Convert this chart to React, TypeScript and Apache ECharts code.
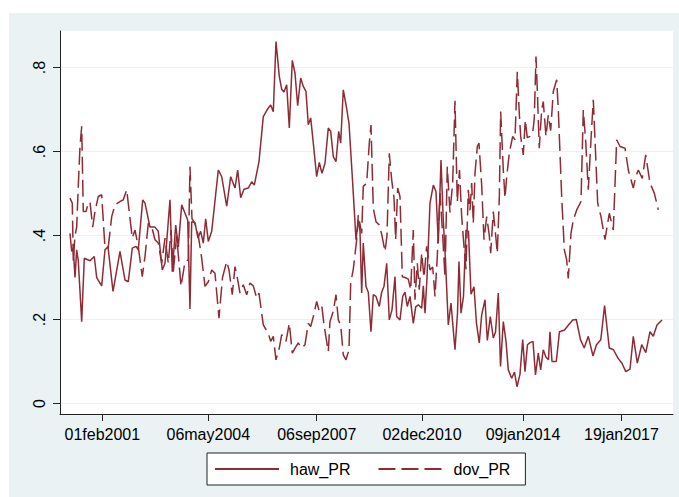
import React, { useEffect, useRef } from "react";
import * as echarts from "echarts";

// Dates as decimal years, values as proportions
const hawT = [
  2000.092, 2000.145, 2000.194, 2000.246, 2000.298, 2000.347, 2000.452, 2000.532, 2000.707, 2000.839, 2000.913,
  2001.067, 2001.168, 2001.261, 2001.415, 2001.63, 2001.784, 2001.885, 2002.008, 2002.122, 2002.192, 2002.328,
  2002.399, 2002.552, 2002.706, 2002.807, 2002.93, 2003.014, 2003.167, 2003.238, 2003.343, 2003.423, 2003.527,
  2003.712, 2003.782, 2003.835, 2003.936, 2004.028, 2004.111, 2004.191, 2004.265, 2004.345, 2004.45, 2004.653,
  2004.757, 2004.911, 2005.034, 2005.166, 2005.249, 2005.341, 2005.443, 2005.575, 2005.68, 2005.76, 2005.904,
  2006.036, 2006.159, 2006.264, 2006.344, 2006.427, 2006.528, 2006.602, 2006.673, 2006.756, 2006.836, 2006.928,
  2007.011, 2007.094, 2007.186, 2007.266, 2007.349, 2007.42, 2007.494, 2007.574, 2007.678, 2007.758, 2007.841,
  2007.934, 2008.035, 2008.109, 2008.189, 2008.272, 2008.355, 2008.416, 2008.496, 2008.579, 2008.672, 2008.785,
  2008.887, 2008.958, 2009.01, 2009.062, 2009.111, 2009.194, 2009.265, 2009.348, 2009.419, 2009.502, 2009.603,
  2009.677, 2009.748, 2009.831, 2009.911, 2009.994, 2010.086, 2010.138, 2010.24, 2010.323, 2010.394, 2010.464,
  2010.547, 2010.649, 2010.723, 2010.803, 2010.907, 2010.957, 2011.009, 2011.071, 2011.163, 2011.264, 2011.347,
  2011.418, 2011.501, 2011.571, 2011.639, 2011.725, 2011.808, 2011.931, 2012.008, 2012.054, 2012.116, 2012.192,
  2012.269, 2012.346, 2012.423, 2012.515, 2012.592, 2012.678, 2012.752, 2012.854, 2012.925, 2013.017, 2013.109,
  2013.177, 2013.263, 2013.331, 2013.417, 2013.5, 2013.57, 2013.675, 2013.761, 2013.838, 2013.93, 2014.013,
  2014.084, 2014.16, 2014.237, 2014.33, 2014.406, 2014.493, 2014.566, 2014.646, 2014.729, 2014.806, 2014.852,
  2014.914, 2015.046, 2015.144, 2015.298, 2015.421, 2015.551, 2015.661, 2015.79, 2015.904, 2016.03, 2016.175,
  2016.282, 2016.415, 2016.531, 2016.676, 2016.805, 2016.943, 2017.066, 2017.183, 2017.313, 2017.414, 2017.537,
  2017.673, 2017.799, 2017.927, 2018.029, 2018.143, 2018.297,
];
const hawV = [
  0.405, 0.362, 0.37, 0.3, 0.366, 0.34, 0.195, 0.346, 0.34, 0.35, 0.3,
  0.28, 0.366, 0.373, 0.267, 0.362, 0.294, 0.29, 0.37, 0.374, 0.366, 0.485,
  0.477, 0.42, 0.42, 0.41, 0.318, 0.334, 0.485, 0.314, 0.425, 0.373, 0.473,
  0.437, 0.225, 0.433, 0.43, 0.394, 0.41, 0.382, 0.44, 0.386, 0.41, 0.556,
  0.54, 0.47, 0.54, 0.513, 0.556, 0.49, 0.51, 0.513, 0.528, 0.52, 0.576,
  0.683, 0.7, 0.711, 0.695, 0.862, 0.779, 0.748, 0.742, 0.759, 0.656, 0.817,
  0.787, 0.709, 0.775, 0.755, 0.743, 0.664, 0.68, 0.62, 0.54, 0.574, 0.548,
  0.572, 0.656, 0.648, 0.588, 0.576, 0.648, 0.62, 0.747, 0.712, 0.667, 0.525,
  0.39, 0.437, 0.41, 0.263, 0.382, 0.279, 0.265, 0.171, 0.259, 0.255, 0.231,
  0.265, 0.279, 0.334, 0.199, 0.223, 0.302, 0.207, 0.199, 0.255, 0.265, 0.231,
  0.255, 0.191, 0.23, 0.235, 0.227, 0.28, 0.215, 0.3, 0.477, 0.52, 0.505,
  0.382, 0.58, 0.437, 0.34, 0.187, 0.239, 0.128, 0.215, 0.338, 0.215, 0.255,
  0.413, 0.41, 0.26, 0.278, 0.191, 0.144, 0.211, 0.247, 0.15, 0.207, 0.156,
  0.17, 0.263, 0.088, 0.195, 0.148, 0.08, 0.06, 0.075, 0.04, 0.07, 0.152,
  0.076, 0.14, 0.145, 0.148, 0.068, 0.12, 0.08, 0.128, 0.11, 0.104, 0.171,
  0.1, 0.1, 0.171, 0.175, 0.187, 0.199, 0.2, 0.152, 0.132, 0.16, 0.113,
  0.14, 0.152, 0.233, 0.132, 0.128, 0.108, 0.096, 0.076, 0.082, 0.16, 0.096,
  0.14, 0.121, 0.171, 0.16, 0.187, 0.199,
];

const dovT = [
  2000.092, 2000.163, 2000.194, 2000.246, 2000.298, 2000.347, 2000.4, 2000.452, 2000.501, 2000.584, 2000.655,
  2000.707, 2000.79, 2000.861, 2000.962, 2001.067, 2001.168, 2001.27, 2001.375, 2001.476, 2001.63, 2001.731,
  2001.836, 2001.907, 2002.008, 2002.091, 2002.192, 2002.315, 2002.399, 2002.5, 2002.605, 2002.706, 2002.807,
  2002.912, 2003.014, 2003.115, 2003.198, 2003.269, 2003.373, 2003.506, 2003.629, 2003.73, 2003.782, 2003.844,
  2003.936, 2004.037, 2004.142, 2004.244, 2004.345, 2004.45, 2004.551, 2004.674, 2004.782, 2004.911, 2004.982,
  2005.083, 2005.166, 2005.249, 2005.32, 2005.421, 2005.526, 2005.627, 2005.729, 2005.833, 2005.904, 2006.036,
  2006.19, 2006.264, 2006.344, 2006.427, 2006.528, 2006.602, 2006.734, 2006.836, 2006.928, 2007.011, 2007.113,
  2007.217, 2007.319, 2007.42, 2007.494, 2007.574, 2007.678, 2007.758, 2007.841, 2007.903, 2008.035, 2008.087,
  2008.189, 2008.272, 2008.343, 2008.416, 2008.496, 2008.579, 2008.672, 2008.724, 2008.804, 2008.908, 2008.958,
  2009.062, 2009.111, 2009.216, 2009.296, 2009.348, 2009.419, 2009.502, 2009.603, 2009.686, 2009.779, 2009.84,
  2009.911, 2009.985, 2010.055, 2010.107, 2010.169, 2010.24, 2010.311, 2010.394, 2010.495, 2010.569, 2010.649,
  2010.701, 2010.772, 2010.833, 2010.907, 2010.978, 2011.061, 2011.163, 2011.245, 2011.316, 2011.387, 2011.47,
  2011.553, 2011.624, 2011.694, 2011.777, 2011.86, 2011.931, 2012.002, 2012.07, 2012.137, 2012.208, 2012.269,
  2012.34, 2012.392, 2012.445, 2012.494, 2012.546, 2012.617, 2012.669, 2012.752, 2012.823, 2012.906, 2012.986,
  2013.029, 2013.109, 2013.171, 2013.232, 2013.294, 2013.336, 2013.417, 2013.469, 2013.521, 2013.601, 2013.705,
  2013.776, 2013.847, 2013.909, 2013.951, 2014.031, 2014.093, 2014.154, 2014.237, 2014.32, 2014.369, 2014.422,
  2014.462, 2014.523, 2014.597, 2014.646, 2014.729, 2014.8, 2014.874, 2014.954, 2015.058, 2015.108, 2015.212,
  2015.293, 2015.366, 2015.415, 2015.498, 2015.569, 2015.674, 2015.806, 2015.877, 2015.951, 2016.03, 2016.113,
  2016.184, 2016.246, 2016.319, 2016.421, 2016.544, 2016.676, 2016.799, 2016.903, 2017.006, 2017.16, 2017.261,
  2017.414, 2017.488, 2017.568, 2017.691, 2017.796, 2017.927, 2018.06, 2018.183,
];
const dovV = [
  0.489, 0.477, 0.338, 0.4, 0.42, 0.517, 0.612, 0.66, 0.457, 0.457, 0.477,
  0.48, 0.42, 0.457, 0.493, 0.497, 0.37, 0.373, 0.445, 0.473, 0.481, 0.485,
  0.509, 0.461, 0.394, 0.413, 0.373, 0.302, 0.35, 0.429, 0.421, 0.39, 0.382,
  0.334, 0.394, 0.334, 0.413, 0.314, 0.4, 0.279, 0.338, 0.342, 0.564, 0.44,
  0.429, 0.4, 0.346, 0.279, 0.29, 0.318, 0.31, 0.203, 0.3, 0.338, 0.318,
  0.259, 0.326, 0.295, 0.263, 0.283, 0.259, 0.287, 0.28, 0.251, 0.263, 0.187,
  0.167, 0.148, 0.16, 0.104, 0.132, 0.164, 0.148, 0.191, 0.12, 0.132, 0.144,
  0.132, 0.14, 0.191, 0.183, 0.207, 0.243, 0.219, 0.23, 0.187, 0.124, 0.195,
  0.22, 0.259, 0.199, 0.187, 0.116, 0.104, 0.128, 0.286, 0.32, 0.39, 0.449,
  0.405, 0.517, 0.525, 0.62, 0.663, 0.465, 0.433, 0.425, 0.4, 0.362, 0.4,
  0.596, 0.532, 0.49, 0.39, 0.513, 0.493, 0.302, 0.3, 0.296, 0.271, 0.413,
  0.247, 0.334, 0.271, 0.358, 0.3, 0.374, 0.318, 0.325, 0.255, 0.35, 0.501,
  0.4, 0.3, 0.564, 0.455, 0.525, 0.721, 0.48, 0.556, 0.445, 0.374, 0.32,
  0.509, 0.46, 0.525, 0.429, 0.548, 0.612, 0.62, 0.52, 0.39, 0.445, 0.4,
  0.358, 0.457, 0.41, 0.358, 0.489, 0.695, 0.556, 0.489, 0.54, 0.596, 0.636,
  0.628, 0.79, 0.69, 0.636, 0.592, 0.675, 0.633, 0.636, 0.643, 0.679, 0.826,
  0.747, 0.608, 0.7, 0.719, 0.636, 0.687, 0.65, 0.743, 0.771, 0.7, 0.493,
  0.366, 0.342, 0.298, 0.405, 0.437, 0.461, 0.481, 0.699, 0.624, 0.509, 0.628,
  0.723, 0.61, 0.477, 0.445, 0.39, 0.453, 0.413, 0.628, 0.612, 0.608, 0.556,
  0.513, 0.54, 0.556, 0.536, 0.592, 0.525, 0.501, 0.461,
];

const seriesNames = ["haw_PR", "dov_PR"];
const xTickDates = ["2001-02-01", "2004-05-06", "2007-09-06", "2010-12-02", "2014-01-09", "2017-01-19"];
const xRange = [1999.785, 2018.635];
const yTicks = [0, 0.2, 0.4, 0.6, 0.8];
const yRange = [-0.025, 0.887];

const MONTHS = ["jan", "feb", "mar", "apr", "may", "jun", "jul", "aug", "sep", "oct", "nov", "dec"];
const DAY = 86400000;
const yearToTs = (y: number) => Date.UTC(2000, 0, 1) + (y - 2000) * 365.25 * DAY;
const dateToTs = (s: string) => {
  const [y, m, d] = s.split("-").map(Number);
  return Date.UTC(y, m - 1, d);
};
const fmtDate = (ts: number) => {
  const d = new Date(ts);
  return String(d.getUTCDate()).padStart(2, "0") + MONTHS[d.getUTCMonth()] + d.getUTCFullYear();
};
const fmtY = (v: number) => {
  if (Math.abs(v) < 1e-9) return "0";
  return String(Math.round(v * 10) / 10).replace(/^0/, "");
};

const LINE_COLOR = "#8E2C36";
const FONT = "'Liberation Sans', Arial, sans-serif";
const AXIS_COLOR = "#222222";

export default function App() {
  const ref = useRef<HTMLDivElement>(null);

  useEffect(() => {
    if (!ref.current) return;
    const chart = echarts.init(ref.current, null, { renderer: "svg" });
    const haw = hawT.map((t, i) => [yearToTs(t), hawV[i]]);
    const dov = dovT.map((t, i) => [yearToTs(t), dovV[i]]);
    const xTicks = xTickDates.map(dateToTs);

    chart.setOption({
      animation: false,
      backgroundColor: "#EAF2F3",
      textStyle: { fontFamily: FONT },
      grid: {
        left: 51,
        right: 6,
        top: 18,
        bottom: 83,
        show: true,
        backgroundColor: "#ffffff",
        borderWidth: 0,
        containLabel: false,
      },
      legend: {
        left: 198,
        top: 440,
        orient: "horizontal",
        backgroundColor: "#ffffff",
        borderColor: "#222222",
        borderWidth: 1,
        borderRadius: 0,
        padding: [8, 15, 8, 7],
        itemWidth: 64,
        itemHeight: 16,
        itemGap: 27,
        data: seriesNames,
        itemStyle: { opacity: 0, borderWidth: 0 },
        textStyle: { fontSize: 16, color: "#000", fontFamily: FONT, padding: [0, 0, 0, 6] },
      },
      xAxis: {
        type: "value",
        min: yearToTs(xRange[0]),
        max: yearToTs(xRange[1]),
        axisLine: { show: true, onZero: false, lineStyle: { color: AXIS_COLOR, width: 1 } },
        axisTick: { show: true, length: 7, customValues: xTicks, lineStyle: { color: AXIS_COLOR, width: 1 } },
        axisLabel: {
          customValues: xTicks,
          formatter: (v: number) => fmtDate(v),
          fontSize: 16,
          color: "#000",
          fontFamily: FONT,
          margin: 12,
          hideOverlap: false,
          showMinLabel: true,
          showMaxLabel: true,
        },
        splitLine: { show: false },
      },
      yAxis: {
        type: "value",
        min: yRange[0],
        max: yRange[1],
        axisLine: { show: true, onZero: false, lineStyle: { color: AXIS_COLOR, width: 1 } },
        axisTick: { show: true, length: 7, customValues: yTicks, lineStyle: { color: AXIS_COLOR, width: 1 } },
        axisLabel: {
          customValues: yTicks,
          formatter: (v: number) => fmtY(v),
          rotate: 90,
          fontSize: 16,
          color: "#000",
          fontFamily: FONT,
          margin: 13,
        },
        splitLine: { show: true, lineStyle: { color: "#EAF2F3", width: 1.2 } },
      },
      series: [
        {
          name: seriesNames[0],
          type: "line",
          data: haw,
          symbol: "none",
          showSymbol: false,
          lineStyle: { color: LINE_COLOR, width: 1.5, type: "solid" },
          itemStyle: { color: LINE_COLOR },
          z: 3,
        },
        {
          name: seriesNames[1],
          type: "line",
          data: dov,
          symbol: "none",
          showSymbol: false,
          lineStyle: { color: LINE_COLOR, width: 1.5, type: [17, 6] },
          itemStyle: { color: LINE_COLOR },
          z: 4,
        },
      ],
    });
    return () => chart.dispose();
  }, []);

  return (
    <div style={{ position: "fixed", left: 0, top: 0, width: 679, height: 497, background: "#ffffff" }}>
      <div ref={ref} style={{ position: "absolute", left: 9, top: 13, width: 670, height: 484 }} />
    </div>
  );
}
